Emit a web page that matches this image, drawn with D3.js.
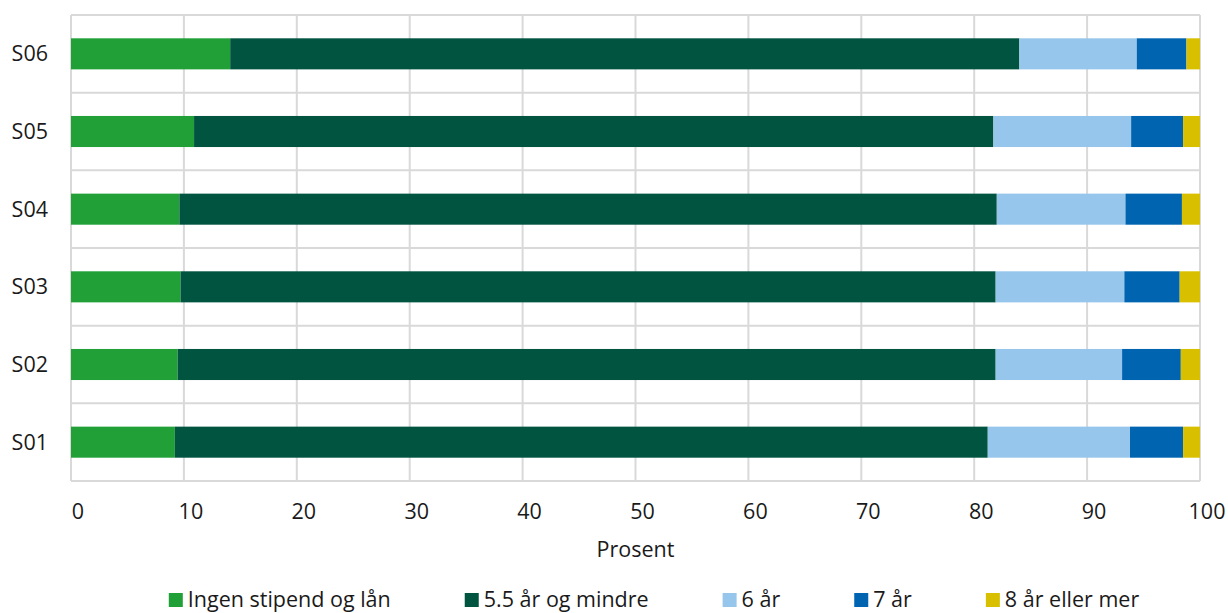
<!DOCTYPE html>
<html>
<head>
<meta charset="utf-8">
<script src="https://cdn.jsdelivr.net/npm/d3@7"></script>
<style>
    body { margin: 0; background: #fff; }
    #chart { width: 1228px; height: 613px; }
    text { font-family: "Open Sans", "Noto Sans", sans-serif; fill: #1a1a1a; }
</style>
</head>
<body>
<div id="chart"></div>
<script>
// Data (percent)
const categories = ['S06', 'S05', 'S04', 'S03', 'S02', 'S01'];
const seriesNames = ['Ingen stipend og lån', '5.5 år og mindre', '6 år', '7 år', '8 år eller mer'];
const seriesColors = ['#21a038', '#005440', '#96c6ec', '#0064b0', '#d8bf00'];

const ingen = [14.1, 10.9, 9.6, 9.7, 9.45, 9.2];
const aar55 = [69.9, 70.8, 72.4, 72.2, 72.45, 72.0];
const aar6 = [10.4, 12.2, 11.4, 11.4, 11.2, 12.6];
const aar7 = [4.4, 4.6, 5.0, 4.9, 5.2, 4.7];
const aar8 = [1.2, 1.5, 1.6, 1.8, 1.7, 1.5];

const xTicks = [0, 10, 20, 30, 40, 50, 60, 70, 80, 90, 100];

function drawChart(selector) {
    const seriesValues = [ingen, aar55, aar6, aar7, aar8];
    const table = categories.map((c, i) => {
        const row = { cat: c };
        seriesNames.forEach((s, j) => { row[s] = seriesValues[j][i]; });
        return row;
    });

    const W = 1228, H = 613;
    const margin = { top: 15, right: 28, bottom: 132, left: 71 };
    const width = W - margin.left - margin.right;
    const height = H - margin.top - margin.bottom;
    const fs = '21.5px';

    const svg = d3.select(selector).append('svg')
        .attr('width', W)
        .attr('height', H)
        .append('g')
        .attr('transform', `translate(${margin.left},${margin.top})`);

    const x = d3.scaleLinear().domain([0, 100]).range([0, width]);
    const y = d3.scaleBand()
        .domain(categories)
        .range([0, height])
        .paddingInner(0.6)
        .paddingOuter(0.3);

    const step = y.step();

    // grid
    const grid = svg.append('g').attr('stroke', '#d9d9d9').attr('stroke-width', 2);
    grid.selectAll('.vg')
        .data(xTicks)
        .enter().append('line')
        .attr('x1', d => x(d)).attr('x2', d => x(d))
        .attr('y1', 0).attr('y2', height);
    grid.selectAll('.hg')
        .data(d3.range(categories.length + 1))
        .enter().append('line')
        .attr('x1', 0).attr('x2', width)
        .attr('y1', i => i * step).attr('y2', i => i * step);

    // stacked bars
    const stack = d3.stack().keys(seriesNames)(table);
    const color = d3.scaleOrdinal().domain(seriesNames).range(seriesColors);

    svg.selectAll('.layer')
        .data(stack)
        .enter().append('g')
        .attr('fill', d => color(d.key))
        .selectAll('rect')
        .data(d => d)
        .enter().append('rect')
        .attr('x', d => x(d[0]))
        .attr('width', d => x(Math.min(d[1], 100)) - x(d[0]))
        .attr('y', d => y(d.data.cat))
        .attr('height', y.bandwidth());

    // y labels
    svg.selectAll('.ylab')
        .data(categories)
        .enter().append('text')
        .attr('x', -23)
        .attr('y', d => y(d) + y.bandwidth() / 2)
        .attr('dy', '0.35em')
        .attr('text-anchor', 'end')
        .style('font-size', fs)
        .text(d => d);

    // x tick labels
    svg.selectAll('.xlab')
        .data(xTicks)
        .enter().append('text')
        .attr('x', d => x(d) + 7)
        .attr('y', height + 38)
        .attr('text-anchor', 'middle')
        .style('font-size', fs)
        .text(d => d);

    svg.append('text')
        .attr('x', width / 2)
        .attr('y', height + 76)
        .attr('text-anchor', 'middle')
        .style('font-size', fs)
        .text('Prosent');

    // legend
    const legend = svg.append('g').attr('transform', `translate(0,${height + 126})`);
    const items = legend.selectAll('.li')
        .data(seriesNames)
        .enter().append('g');
    items.append('rect')
        .attr('x', 0).attr('y', -14)
        .attr('width', 14).attr('height', 14)
        .attr('fill', d => color(d));
    items.append('text')
        .attr('x', 19)
        .attr('y', 0)
        .style('font-size', fs)
        .text(d => d);

    const gap = 74;
    let pos = 0;
    const offsets = [];
    items.each(function() {
        offsets.push(pos);
        const w = 19 + d3.select(this).select('text').node().getComputedTextLength();
        pos += w + gap;
    });
    const total = pos - gap;
    const start = (654 - margin.left) - total / 2;
    items.attr('transform', (d, i) => `translate(${start + offsets[i]},0)`);
}

drawChart('#chart');
</script>
</body>
</html>
